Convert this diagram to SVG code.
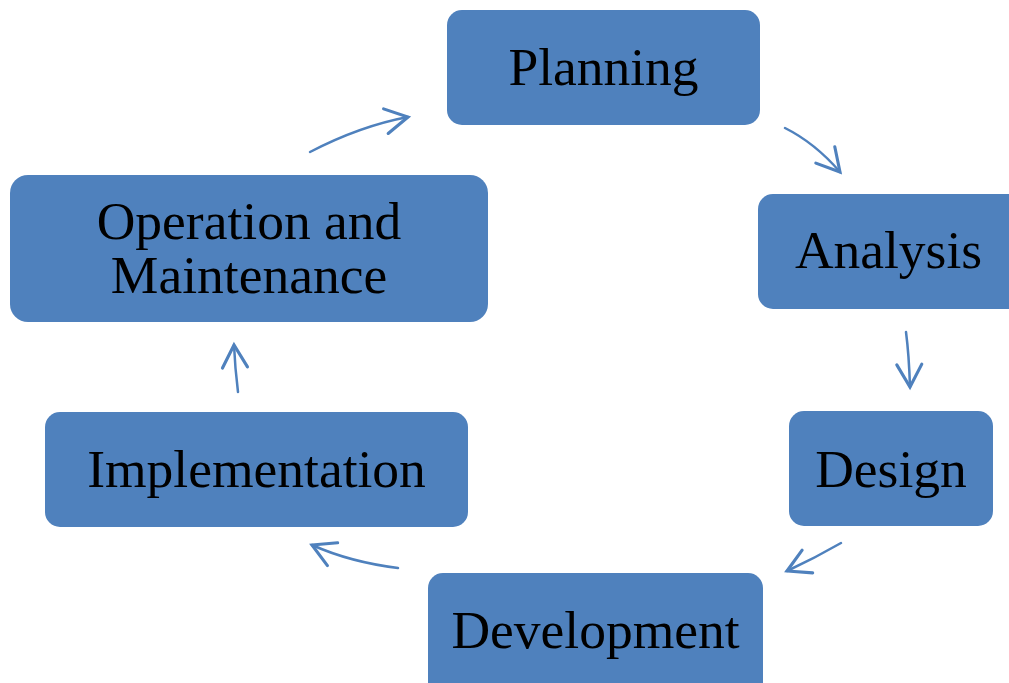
<svg xmlns="http://www.w3.org/2000/svg" width="1009" height="683" viewBox="0 0 1009 683">
<style>
.box{fill:#4f81bd;}
.lbl{font-family:"Liberation Serif","Times New Roman",serif;font-size:53.5px;fill:#000;text-anchor:middle;}
.con{fill:none;stroke:#4f81bd;stroke-width:2.5;stroke-linecap:round;}
</style>
<defs>
<marker id="ah" markerUnits="userSpaceOnUse" markerWidth="30" markerHeight="30" viewBox="-20 -12 24 24" refX="0" refY="0" orient="auto">
<path d="M-18,-10 L0,0 L-18,10" fill="none" stroke="#4f81bd" stroke-width="2.5" stroke-linecap="round" stroke-linejoin="miter"/>
</marker>
</defs>
<rect width="1009" height="683" fill="#fff"/>
<g id="connectors">
<path class="con" d="M310,152 Q360,126 408,117" marker-end="url(#ah)"/>
<path class="con" d="M785,128 Q815,143 840,172" marker-end="url(#ah)"/>
<path class="con" d="M906,332 Q909,355 910,387" marker-end="url(#ah)"/>
<path class="con" d="M841,543 Q815,558 787,571" marker-end="url(#ah)"/>
<path class="con" d="M398,568 Q350,562 312,545" marker-end="url(#ah)"/>
<path class="con" d="M238,392 Q235,368 234,345" marker-end="url(#ah)"/>
</g>
<g id="planning">
<rect class="box" x="447" y="10" width="313" height="115" rx="15"/>
<text class="lbl" x="603.5" y="85">Planning</text>
</g>
<g id="analysis">
<rect class="box" x="758" y="194" width="270" height="115" rx="15"/>
<text class="lbl" x="888.5" y="268">Analysis</text>
</g>
<g id="design">
<rect class="box" x="789" y="411" width="204" height="115" rx="15"/>
<text class="lbl" x="891" y="487">Design</text>
</g>
<g id="development">
<rect class="box" x="428" y="573" width="335" height="130" rx="15"/>
<text class="lbl" x="595.5" y="648">Development</text>
</g>
<g id="implementation">
<rect class="box" x="45" y="412" width="423" height="115" rx="15"/>
<text class="lbl" x="256.5" y="487">Implementation</text>
</g>
<g id="operation">
<rect class="box" x="10" y="175" width="478" height="147" rx="18"/>
<text class="lbl" x="249" y="239">Operation and</text>
<text class="lbl" x="249" y="293">Maintenance</text>
</g>
</svg>
